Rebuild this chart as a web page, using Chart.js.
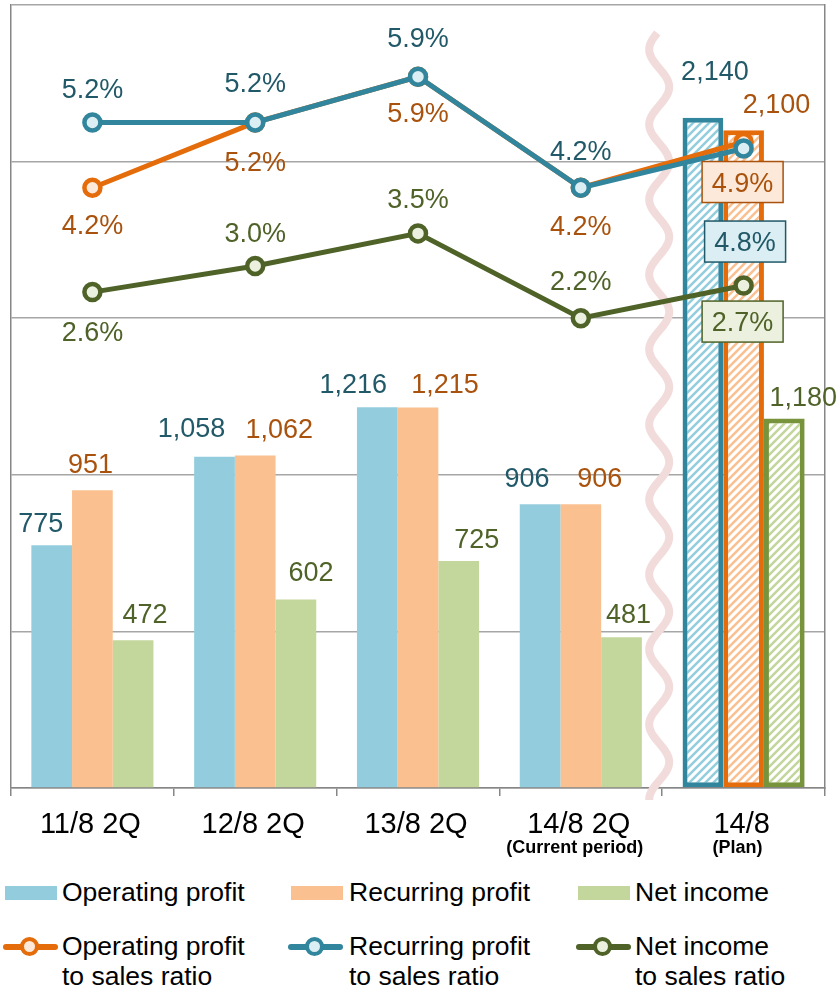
<!DOCTYPE html>
<html>
<head>
<meta charset="utf-8">
<title>Profit summary</title>
<script src="https://cdn.jsdelivr.net/npm/chart.js@4/dist/chart.umd.min.js"></script>
<style>
  body { margin: 0; background: #fff; width: 840px; height: 989px; overflow: hidden;
         font-family: "Liberation Sans", Arial, sans-serif; }
  #wrap { position: absolute; left: 0; top: 0; width: 840px; height: 870px; }
  .lg-text { position: absolute; font-size: 26.5px; line-height: 30px; color: #000; white-space: nowrap; }
  .lg-box { position: absolute; width: 52px; height: 14px; }
  .lg-line { position: absolute; height: 6px; border-radius: 3px; }
  .lg-dot { position: absolute; width: 11px; height: 11px; border-radius: 50%; border: 4.5px solid; }
</style>
</head>
<body>
<div id="wrap"><canvas id="chart" width="840" height="870"></canvas></div>
<div id="legend"></div>
<script>
// Periods on the x axis
const categories = ['11/8 2Q', '12/8 2Q', '13/8 2Q', '14/8 2Q', '14/8'];
const subLabels = ['', '', '', '(Current period)', '(Plan)'];

// Profit figures (bars)
const operatingProfit = [775, 1058, 1216, 906, 2140];
const recurringProfit = [951, 1062, 1215, 906, 2100];
const netIncome = [472, 602, 725, 481, 1180];

// Ratios to sales, % (lines)
const operatingRatio = [4.2, 5.2, 5.9, 4.2, 4.9];
const recurringRatio = [5.2, 5.2, 5.9, 4.2, 4.8];
const netRatio = [2.6, 3.0, 3.5, 2.2, 2.7];

const planIndex = 4;

const BLUE = { fill: '#93CDDD', line: '#31859C', text: '#215968', light: '#DAEEF3', edge: '#31859C' };
const ORANGE = { fill: '#FAC090', line: '#E46C0A', text: '#A9520D', light: '#FDE9D9', edge: '#E46C0A' };
const GREEN = { fill: '#C3D69B', line: '#4F6228', text: '#4F6228', light: '#EBF1DE', edge: '#77933C' };

const FONT = '"Liberation Sans", Arial, sans-serif';

// label nudges [dx, dy] relative to bar top / point
const barLabelShift = [
  [[-11, -23], [-23, -29], [-24, -24], [-13, -27], [12, -47]],
  [[-2, -27], [24, -27], [27, -24], [19, -27], [33, -27]],
  [[12, -27], [15, -28], [18, -23], [7, -24], [19, -22]]
];
const lineLabelShift = [
  [[0, 37], [0, 38.5], [0, 36], [0, 37.5], [-1, 40]],
  [[0, -34.5], [0, -40.5], [0, -39], [0, -37.5], [1.5, 93]],
  [[0, 39], [0, -34], [0, -35.5], [0, -38], [-1, 36]]
];

const canvas = document.getElementById('chart');
const ctx = canvas.getContext('2d');

function hatch(color) {
  const tile = document.createElement('canvas');
  tile.width = tile.height = 8;
  const g = tile.getContext('2d');
  g.fillStyle = '#fff';
  g.fillRect(0, 0, 8, 8);
  g.strokeStyle = color;
  g.lineWidth = 2.5;
  g.beginPath();
  g.moveTo(-2, 10); g.lineTo(10, -2);
  g.moveTo(-2, 2); g.lineTo(2, -2);
  g.moveTo(6, 10); g.lineTo(10, 6);
  g.stroke();
  return ctx.createPattern(tile, 'repeat');
}

function barSet(label, values, col) {
  return {
    type: 'bar',
    label: label,
    data: values,
    yAxisID: 'y',
    order: 10,
    backgroundColor: values.map((v, i) => i === planIndex ? hatch(col.fill) : col.fill),
    borderColor: col.edge,
    borderWidth: values.map((v, i) => i === planIndex ? 5 : 0),
    borderSkipped: false,
    categoryPercentage: 0.75,
    barPercentage: 1.0
  };
}

function lineSet(label, values, col, order) {
  return {
    type: 'line',
    label: label,
    data: values,
    yAxisID: 'y1',
    order: order,
    borderColor: col.line,
    borderWidth: 5,
    pointRadius: 8,
    pointHoverRadius: 8,
    pointBorderWidth: 4.5,
    pointBackgroundColor: col.light,
    pointBorderColor: col.line,
    tension: 0,
    fill: false
  };
}

function textAt(c, str, x, cy, size, color, bold) {
  c.font = (bold ? 'bold ' : '') + size + 'px ' + FONT;
  c.fillStyle = color;
  c.textAlign = 'center';
  c.textBaseline = 'alphabetic';
  c.fillText(str, x, cy + size * 0.358);
}

// pink wavy break line between actuals and plan
const breakWave = {
  id: 'breakWave',
  beforeDatasetsDraw(chart) {
    const { ctx: c, chartArea, scales: { x } } = chart;
    const cx = (x.getPixelForValue(3) + x.getPixelForValue(4)) / 2 - 3;
    const y0 = chartArea.top + 28, y1 = chartArea.bottom + 12;
    c.save();
    c.strokeStyle = '#F2DCDB';
    c.lineWidth = 8;
    c.beginPath();
    for (let y = y0; y <= y1; y++) {
      const px = cx + 10 * Math.cos(2 * Math.PI * (y - chartArea.top - 82) / 75);
      if (y === y0) c.moveTo(px, y); else c.lineTo(px, y);
    }
    c.stroke();
    c.restore();
  }
};

const valueLabels = {
  id: 'valueLabels',
  afterDatasetsDraw(chart) {
    const c = chart.ctx;
    const cols = [BLUE, ORANGE, GREEN];
    c.save();
    // bar values
    for (let d = 0; d < 3; d++) {
      const meta = chart.getDatasetMeta(d);
      const values = chart.data.datasets[d].data;
      meta.data.forEach((el, i) => {
        const [dx, dy] = barLabelShift[d][i];
        textAt(c, values[i].toLocaleString('en-US'), el.x + dx, el.y + dy, 27, cols[d].text);
      });
    }
    // ratio values
    const lineCols = [ORANGE, BLUE, GREEN];
    for (let d = 3; d < 6; d++) {
      const k = d - 3;
      const meta = chart.getDatasetMeta(d);
      const values = chart.data.datasets[d].data;
      meta.data.forEach((el, i) => {
        const [dx, dy] = lineLabelShift[k][i];
        const x = el.x + dx, y = el.y + dy;
        const str = values[i].toFixed(1) + '%';
        if (i === planIndex) {
          c.fillStyle = lineCols[k].light;
          c.strokeStyle = lineCols[k].text;
          c.lineWidth = 1.5;
          c.fillRect(x - 40.5, y - 20.5, 81, 41);
          c.strokeRect(x - 40.5, y - 20.5, 81, 41);
        }
        textAt(c, str, x, y, 27, lineCols[k].text);
      });
    }
    c.restore();
  },
  afterDraw(chart) {
    const c = chart.ctx;
    const x = chart.scales.x;
    c.save();
    categories.forEach((name, i) => {
      const px = x.getPixelForValue(i);
      c.font = '29px ' + FONT;
      c.fillStyle = '#000';
      c.textAlign = 'center';
      c.textBaseline = 'alphabetic';
      c.fillText(name, px - 2, chart.chartArea.bottom + 45);
      if (subLabels[i]) {
        c.font = 'bold 18px ' + FONT;
        c.fillText(subLabels[i], px - 6, chart.chartArea.bottom + 65);
      }
    });
    c.restore();
  }
};

new Chart(ctx, {
  type: 'bar',
  data: {
    labels: categories,
    datasets: [
      barSet('Operating profit', operatingProfit, BLUE),
      barSet('Recurring profit', recurringProfit, ORANGE),
      barSet('Net income', netIncome, GREEN),
      lineSet('Operating profit to sales ratio', operatingRatio, ORANGE, 3),
      lineSet('Recurring profit to sales ratio', recurringRatio, BLUE, 2),
      lineSet('Net income to sales ratio', netRatio, GREEN, 1)
    ]
  },
  options: {
    responsive: false,
    animation: false,
    layout: { autoPadding: false, padding: { left: 11, right: 15, top: 5, bottom: 0 } },
    plugins: { legend: { display: false }, tooltip: { enabled: false } },
    scales: {
      x: {
        offset: true,
        ticks: { display: false },
        grid: { offset: true, drawOnChartArea: false, drawTicks: true, tickLength: 8, color: '#868686', lineWidth: 1.5 },
        border: { display: true, color: '#868686', width: 1.5 },
        afterFit(scale) { scale.height = 82; }
      },
      y: {
        min: 0,
        max: 2500,
        ticks: { display: false, stepSize: 500 },
        grid: { color: '#A6A6A6', lineWidth: 1.5, drawTicks: false },
        border: { display: true, color: '#868686', width: 1.5 },
        afterFit(scale) { scale.width = 0; }
      },
      y1: {
        position: 'right',
        min: -5,
        max: 7,
        ticks: { display: false, stepSize: 1 },
        grid: { drawOnChartArea: false, drawTicks: false },
        border: { display: true, color: '#868686', width: 1.5 },
        afterFit(scale) { scale.width = 0; }
      }
    }
  },
  plugins: [breakWave, valueLabels]
});

// legend below the chart
const legend = document.getElementById('legend');
const legendItems = [
  { text: 'Operating profit', col: BLUE, kind: 'box', x: 5, tx: 62 },
  { text: 'Recurring profit', col: ORANGE, kind: 'box', x: 291, tx: 349 },
  { text: 'Net income', col: GREEN, kind: 'box', x: 578, tx: 635 },
  { text: 'Operating profit<br>to sales ratio', col: ORANGE, kind: 'line', x: 3, tx: 62 },
  { text: 'Recurring profit<br>to sales ratio', col: BLUE, kind: 'line', x: 288, tx: 349 },
  { text: 'Net income<br>to sales ratio', col: GREEN, kind: 'line', x: 576, tx: 635 }
];
legendItems.forEach(item => {
  const t = document.createElement('div');
  t.className = 'lg-text';
  t.innerHTML = item.text;
  t.style.left = item.tx + 'px';
  if (item.kind === 'box') {
    t.style.top = '877px';
    const b = document.createElement('div');
    b.className = 'lg-box';
    b.style.left = item.x + 'px';
    b.style.top = '886px';
    b.style.background = item.col.fill;
    legend.appendChild(b);
  } else {
    t.style.top = '931px';
    const l = document.createElement('div');
    l.className = 'lg-line';
    l.style.left = item.x + 'px';
    l.style.width = '55px';
    l.style.top = '944px';
    l.style.background = item.col.line;
    const d = document.createElement('div');
    d.className = 'lg-dot';
    d.style.left = (item.x + 17) + 'px';
    d.style.top = '937px';
    d.style.background = item.col.light;
    d.style.borderColor = item.col.line;
    legend.appendChild(l);
    legend.appendChild(d);
  }
  legend.appendChild(t);
});
</script>
</body>
</html>
